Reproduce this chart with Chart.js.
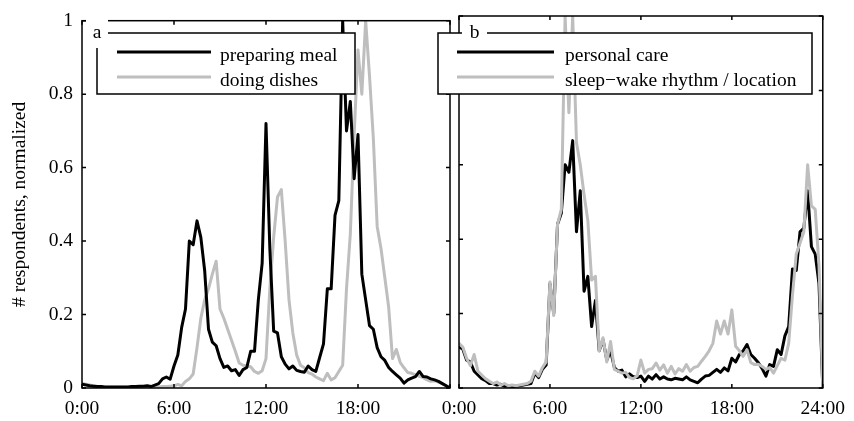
<!DOCTYPE html>
<html>
<head>
<meta charset="utf-8">
<script src="https://cdn.jsdelivr.net/npm/chart.js@4.4.1/dist/chart.umd.min.js"></script>
<style>
  html, body { margin: 0; padding: 0; background: #fff; }
  #wrap { position: relative; width: 854px; height: 421px; overflow: hidden; }
  canvas { position: absolute; top: 0; }
  #panelA { left: 0; }
  #panelB { left: 430px; }
</style>
</head>
<body>
<div id="wrap">
  <canvas id="panelA" width="460" height="421"></canvas>
  <canvas id="panelB" width="424" height="421"></canvas>
</div>
<script>
// normalized respondent counts, one value every 15 minutes from 0:00 to 24:00
const mealPrep = [
  0.010, 0.008, 0.006, 0.005, 0.004, 0.004, 0.003, 0.003,
  0.003, 0.003, 0.003, 0.003, 0.003, 0.004, 0.004, 0.005,
  0.005, 0.006, 0.004, 0.008, 0.012, 0.025, 0.030, 0.024,
  0.060, 0.090, 0.165, 0.215, 0.400, 0.390, 0.455, 0.410,
  0.320, 0.160, 0.125, 0.115, 0.080, 0.056, 0.060, 0.047,
  0.050, 0.034, 0.050, 0.056, 0.100, 0.100, 0.240, 0.340,
  0.720, 0.380, 0.155, 0.150, 0.085, 0.065, 0.052, 0.060,
  0.048, 0.045, 0.043, 0.060, 0.050, 0.045, 0.083, 0.120,
  0.270, 0.270, 0.470, 0.510, 1.000, 0.700, 0.780, 0.570,
  0.690, 0.310, 0.240, 0.170, 0.160, 0.110, 0.085, 0.075,
  0.056, 0.045, 0.036, 0.027, 0.013, 0.022, 0.027, 0.031,
  0.045, 0.031, 0.030, 0.025, 0.022, 0.018, 0.012, 0.006,
  0.000
];
const dishes = [
  0.012, 0.010, 0.008, 0.006, 0.004, 0.003, 0.002, 0.002,
  0.002, 0.002, 0.002, 0.002, 0.002, 0.002, 0.002, 0.002,
  0.003, 0.002, 0.002, 0.003, 0.003, 0.004, 0.004, 0.005,
  0.006, 0.010, 0.006, 0.018, 0.025, 0.038, 0.110, 0.190,
  0.240, 0.270, 0.310, 0.345, 0.215, 0.190, 0.160, 0.130,
  0.100, 0.068, 0.062, 0.060, 0.058, 0.045, 0.040, 0.047,
  0.080, 0.270, 0.410, 0.520, 0.540, 0.400, 0.240, 0.150,
  0.090, 0.062, 0.055, 0.042, 0.038, 0.030, 0.025, 0.020,
  0.040, 0.022, 0.028, 0.045, 0.062, 0.270, 0.420, 0.690,
  0.920, 0.800, 1.000, 0.850, 0.680, 0.440, 0.380, 0.300,
  0.220, 0.080, 0.105, 0.070, 0.055, 0.042, 0.040, 0.036,
  0.032, 0.028, 0.022, 0.018, 0.020, 0.016, 0.012, 0.006,
  0.000
];
const personalCare = [
  0.110, 0.105, 0.075, 0.070, 0.045, 0.035, 0.025, 0.020,
  0.012, 0.012, 0.008, 0.010, 0.005, 0.006, 0.004, 0.005,
  0.006, 0.008, 0.010, 0.012, 0.040, 0.028, 0.050, 0.062,
  0.280, 0.200, 0.440, 0.470, 0.600, 0.580, 0.665, 0.420,
  0.530, 0.260, 0.300, 0.165, 0.235, 0.100, 0.130, 0.075,
  0.100, 0.055, 0.045, 0.048, 0.030, 0.038, 0.030, 0.028,
  0.032, 0.018, 0.032, 0.024, 0.036, 0.024, 0.030, 0.024,
  0.022, 0.026, 0.024, 0.022, 0.030, 0.022, 0.018, 0.014,
  0.024, 0.032, 0.034, 0.042, 0.050, 0.042, 0.054, 0.046,
  0.080, 0.070, 0.090, 0.100, 0.117, 0.090, 0.080, 0.068,
  0.052, 0.032, 0.063, 0.058, 0.103, 0.090, 0.140, 0.165,
  0.320, 0.316, 0.420, 0.430, 0.530, 0.380, 0.360, 0.280,
  0.000
];
const sleepWake = [
  0.120, 0.110, 0.080, 0.060, 0.090, 0.045, 0.035, 0.025,
  0.018, 0.012, 0.016, 0.008, 0.012, 0.006, 0.008, 0.006,
  0.008, 0.010, 0.012, 0.018, 0.045, 0.032, 0.055, 0.070,
  0.285, 0.195, 0.440, 0.480, 1.000, 0.740, 1.000, 0.660,
  0.600, 0.520, 0.450, 0.290, 0.300, 0.100, 0.135, 0.070,
  0.125, 0.050, 0.045, 0.040, 0.042, 0.028, 0.025, 0.032,
  0.075, 0.040, 0.050, 0.052, 0.067, 0.048, 0.062, 0.040,
  0.058, 0.038, 0.052, 0.045, 0.063, 0.045, 0.055, 0.058,
  0.072, 0.085, 0.100, 0.120, 0.180, 0.145, 0.180, 0.145,
  0.210, 0.112, 0.100, 0.085, 0.103, 0.068, 0.063, 0.064,
  0.058, 0.050, 0.055, 0.040, 0.060, 0.080, 0.075, 0.120,
  0.250, 0.360, 0.390, 0.420, 0.600, 0.490, 0.480, 0.330,
  0.000
];

const xTickValues = [0, 6, 12, 18, 24];
const xTickLabels = ['0:00', '6:00', '12:00', '18:00', '24:00'];
const yTickValues = [0, 0.2, 0.4, 0.6, 0.8, 1];
const yTickLabels = ['0', '0.2', '0.4', '0.6', '0.8', '1'];

const colorDark = '#000000';
const colorLight = '#bebebe';
const fontFamily = "'Liberation Serif', 'Times New Roman', serif";
const fontSize = 19.5;

// quarter-hour time grid
const toPoints = vals => vals.map((v, i) => ({ x: i * 0.25, y: v }));

// frame with inward ticks, boxed legend and panel letter
const panelDecor = {
  id: 'panelDecor',
  afterDraw(chart, args, o) {
    const { ctx, chartArea: a, scales: { x, y } } = chart;
    ctx.save();
    ctx.strokeStyle = '#000';
    ctx.lineWidth = 1.5;
    ctx.strokeRect(a.left, a.top, a.right - a.left, a.bottom - a.top);
    ctx.beginPath();
    xTickValues.forEach(v => {
      const px = x.getPixelForValue(v);
      ctx.moveTo(px, a.bottom); ctx.lineTo(px, a.bottom - 4);
      ctx.moveTo(px, a.top); ctx.lineTo(px, a.top + 4);
    });
    yTickValues.forEach(v => {
      const py = y.getPixelForValue(v);
      ctx.moveTo(a.left, py); ctx.lineTo(a.left + 4, py);
      ctx.moveTo(a.right, py); ctx.lineTo(a.right - 4, py);
    });
    ctx.stroke();

    // legend
    const L = o.legend;
    ctx.fillStyle = '#fff';
    ctx.fillRect(L.x, L.y, L.w, L.h);
    ctx.strokeRect(L.x, L.y, L.w, L.h);
    ctx.font = fontSize + 'px ' + fontFamily;
    ctx.textBaseline = 'alphabetic';
    ctx.textAlign = 'left';
    chart.data.datasets.forEach((ds, i) => {
      const ly = L.rows[i];
      ctx.strokeStyle = ds.borderColor;
      ctx.lineWidth = 3;
      ctx.beginPath();
      ctx.moveTo(L.lineFrom, ly);
      ctx.lineTo(L.lineTo, ly);
      ctx.stroke();
      ctx.fillStyle = '#000';
      ctx.fillText(ds.label, L.textX, ly + 9);
    });

    // panel letter
    const T = o.tag;
    ctx.fillStyle = '#fff';
    ctx.fillRect(T.x, T.y, T.w, T.h);
    ctx.fillStyle = '#000';
    ctx.textAlign = 'center';
    ctx.fillText(T.text, T.x + T.w / 2, T.y + 21);
    ctx.restore();
  }
};

function panelOptions(opts) {
  const tickFont = { family: fontFamily, size: fontSize };
  return {
    responsive: false,
    animation: false,
    events: [],
    layout: { padding: { top: 16, right: opts.padRight, left: 0, bottom: 0 } },
    elements: {
      point: { radius: 0 },
      line: { tension: 0, borderWidth: 3, borderJoinStyle: 'round', borderCapStyle: 'round' }
    },
    plugins: {
      legend: { display: false },
      tooltip: { enabled: false },
      panelDecor: { legend: opts.legend, tag: opts.tag }
    },
    scales: {
      x: {
        type: 'linear', min: 0, max: 24,
        grid: { display: false, drawTicks: false },
        border: { display: false },
        ticks: {
          stepSize: 6, padding: 9, autoSkip: false, maxRotation: 0,
          color: '#000', font: tickFont,
          callback: v => (opts.hideLastX && v === 24) ? '' : xTickLabels[xTickValues.indexOf(v)]
        },
        afterFit: s => { s.height = 33; }
      },
      y: {
        min: 0, max: 1,
        grid: { display: false, drawTicks: false },
        border: { display: false },
        ticks: {
          display: opts.showY, stepSize: 0.2, padding: 9,
          color: '#000', font: tickFont,
          callback: (v, i) => yTickLabels[i]
        },
        title: {
          display: opts.showY, text: '# respondents, normalized',
          color: '#000', font: tickFont, padding: { top: 8, bottom: 0 }
        },
        afterFit: s => { s.width = opts.yWidth; }
      }
    }
  };
}

new Chart(document.getElementById('panelA'), {
  type: 'line',
  data: {
    datasets: [
      { label: 'preparing meal', data: toPoints(mealPrep), borderColor: colorDark, clip: 0, order: 0 },
      { label: 'doing dishes', data: toPoints(dishes), borderColor: colorLight, clip: 0, order: 1 }
    ]
  },
  options: panelOptions({
    padRight: 10, yWidth: 82, showY: true, hideLastX: true,
    legend: { x: 97, y: 33, w: 258, h: 61, rows: [52, 77], lineFrom: 117, lineTo: 211, textX: 220 },
    tag: { x: 86, y: 17, w: 22, h: 31, text: 'a' }
  }),
  plugins: [panelDecor]
});

new Chart(document.getElementById('panelB'), {
  type: 'line',
  data: {
    datasets: [
      { label: 'personal care', data: toPoints(personalCare), borderColor: colorDark, clip: 0, order: 1 },
      { label: 'sleep\u2212wake rhythm / location', data: toPoints(sleepWake), borderColor: colorLight, clip: 0, order: 0 }
    ]
  },
  options: panelOptions({
    padRight: 27, yWidth: 29, showY: false, hideLastX: false,
    legend: { x: 8, y: 33, w: 374, h: 61, rows: [52, 77], lineFrom: 27, lineTo: 124, textX: 135 },
    tag: { x: 32, y: 17, w: 25, h: 31, text: 'b' }
  }),
  plugins: [panelDecor]
});
</script>
</body>
</html>
